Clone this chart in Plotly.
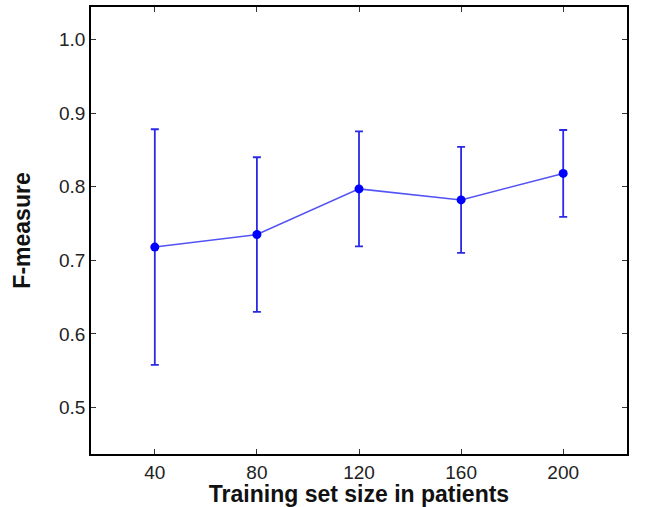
import plotly.graph_objects as go

train_size = [40, 80, 120, 160, 200]
f_measure = [0.718, 0.735, 0.797, 0.782, 0.818]
f_error = [0.160, 0.105, 0.078, 0.072, 0.059]

x_ticks = [40, 80, 120, 160, 200]
y_ticks = [0.5, 0.6, 0.7, 0.8, 0.9, 1.0]
y_tick_labels = ["0.5", "0.6", "0.7", "0.8", "0.9", "1.0"]

fig = go.Figure()
fig.add_trace(go.Scatter(
    x=train_size, y=f_measure,
    mode="lines+markers",
    line=dict(color="rgba(40,40,240,0.8)", width=1.5),
    marker=dict(color="#0000ff", size=9),
    error_y=dict(type="data", array=f_error, visible=True,
                 color="#2a2ae6", thickness=1.8, width=4),
    showlegend=False,
))

axis_common = dict(
    showline=True, linecolor="black", linewidth=1.5, mirror="ticks",
    ticks="inside", ticklen=5, tickwidth=1.2, tickcolor="#333",
    showgrid=False, zeroline=False,
    tickfont=dict(family="Liberation Sans, Arial", size=19, color="#222"),
)

fig.update_layout(
    width=646, height=507,
    margin=dict(l=91, r=19, t=5, b=51),
    plot_bgcolor="white", paper_bgcolor="white",
    xaxis=dict(range=[15, 225], tickvals=x_ticks,
               title=dict(text="<b>Training set size in patients</b>",
                          font=dict(family="Liberation Sans, Arial", size=23, color="#111"),
                          standoff=3),
               **axis_common),
    yaxis=dict(range=[0.437, 1.044], tickvals=y_ticks, ticktext=y_tick_labels,
               title=dict(text="<b>F-measure</b>",
                          font=dict(family="Liberation Sans, Arial", size=23, color="#111"),
                          standoff=22),
               **axis_common),
)

fig.write_html("out.html", config={"displayModeBar": False},
               post_script="document.body.style.margin='0';")
